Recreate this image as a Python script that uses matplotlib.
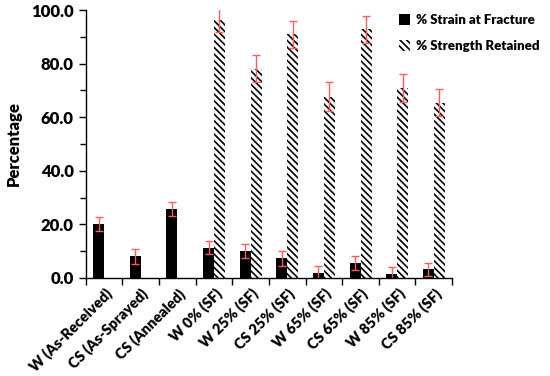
import numpy as np
import matplotlib
matplotlib.use('Agg')
import matplotlib.pyplot as plt
import matplotlib.ticker as ticker

plt.rcParams['font.family'] = ['Lato', 'DejaVu Sans']
plt.rcParams['font.weight'] = 'heavy'
plt.rcParams['hatch.linewidth'] = 1.2

categories = ['W (As-Received)', 'CS (As-Sprayed)', 'CS (Annealed)', 'W 0% (SF)',
              'W 25% (SF)', 'CS 25% (SF)', 'W 65% (SF)', 'CS 65% (SF)',
              'W 85% (SF)', 'CS 85% (SF)']
strain = [20.1, 8.0, 25.6, 11.3, 10.1, 7.3, 2.0, 5.5, 1.4, 3.2]
strain_err = [2.5, 2.7, 2.6, 2.5, 2.5, 2.7, 2.5, 2.5, 2.8, 2.5]
strength = [np.nan, np.nan, np.nan, 96.4, 78.2, 91.0, 67.7, 92.9, 70.8, 65.4]
strength_err = [np.nan, np.nan, np.nan, 4.7, 5.0, 5.0, 5.3, 5.0, 5.2, 5.0]

ERR_COLOR = '#ff5a5a'

fig = plt.figure(figsize=(5.5, 3.76), dpi=100)
ax = fig.add_axes([0.156, 0.261, 0.666, 0.712])

x = np.arange(len(categories))
w = 0.3
ax.bar(x - w / 2, strain, w, color='black', label='% Strain at Fracture',
       yerr=strain_err, error_kw=dict(ecolor=ERR_COLOR, capsize=3, elinewidth=1, capthick=1))
ax.bar(x + w / 2, strength, w, color='white', edgecolor='black', linewidth=0,
       hatch='\\\\\\\\\\', label='% Strength Retained',
       yerr=strength_err, error_kw=dict(ecolor=ERR_COLOR, capsize=3, elinewidth=1, capthick=1))

ax.set_xlim(-0.5, len(categories) - 0.5)
ax.set_ylim(0, 100)
ax.yaxis.set_major_locator(ticker.MultipleLocator(20))
ax.yaxis.set_minor_locator(ticker.MultipleLocator(10))
ax.yaxis.set_major_formatter(ticker.FormatStrFormatter('%.1f'))
ax.set_xticks(x)
ax.set_xticklabels(categories, rotation=45, ha='right', rotation_mode='anchor')
ax.set_xticks(np.arange(-0.5, len(categories)), minor=True)
ax.tick_params(axis='x', which='major', length=0, pad=6, labelsize=10.5)
ax.tick_params(axis='x', which='minor', length=5, width=1)
ax.tick_params(axis='y', which='both', direction='out', width=1, labelsize=12)
ax.tick_params(axis='y', which='major', length=5)
ax.tick_params(axis='y', which='minor', length=4)
for s in ['top', 'right']:
    ax.spines[s].set_visible(False)
ax.spines['left'].set_linewidth(1)
ax.spines['bottom'].set_linewidth(1)

ax.set_ylabel('Percentage', fontsize=12, fontweight='heavy', labelpad=7)

fig.legend(loc='upper left', bbox_to_anchor=(0.703, 0.995), frameon=False,
           fontsize=9.5, handlelength=0.9, handleheight=0.9, handletextpad=0.4,
           labelspacing=1.1)

fig.savefig('out.png', dpi=100)
